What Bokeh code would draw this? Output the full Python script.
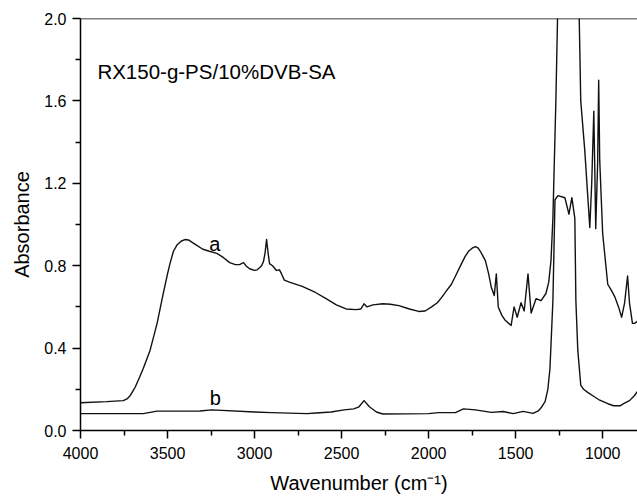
from bokeh.plotting import figure
from bokeh.models import Range1d, FixedTicker, PrintfTickFormatter, Span, ColumnDataSource
from bokeh.core.properties import value
from bokeh.embed import file_html
from bokeh.resources import INLINE

# Curve a (RX150-g-PS/10%DVB-SA)
wn_a = [4000, 3850, 3754, 3730, 3714, 3700, 3686, 3660, 3640, 3600, 3560, 3526, 3500, 3486,
        3466, 3446, 3420, 3400, 3380, 3343, 3297, 3260, 3217, 3180, 3143, 3110, 3086, 3070,
        3063, 3050, 3029, 3000, 2985, 2971, 2960, 2949, 2940, 2931, 2922, 2914, 2897, 2874,
        2857, 2845, 2829, 2800, 2726, 2650, 2589, 2530, 2474, 2417, 2389, 2371, 2354, 2320,
        2263, 2220, 2171, 2110, 2057, 2020, 1983, 1950, 1926, 1900, 1869, 1840, 1811, 1790,
        1771, 1750, 1731, 1715, 1703, 1690, 1674, 1655, 1640, 1623, 1611, 1600, 1580, 1560,
        1526, 1509, 1491, 1469, 1451, 1429, 1411, 1383, 1354, 1326, 1310, 1297, 1286, 1269,
        1257, 1229, 1154, 1137, 1126, 1103, 1074, 1063, 1051, 1046, 1040, 1029, 1023, 1017,
        1000, 971, 950, 931, 909, 891, 874, 857, 846, 829, 817, 800]
abs_a = [0.135, 0.14, 0.145, 0.155, 0.17, 0.19, 0.21, 0.26, 0.30, 0.39, 0.52, 0.66, 0.76, 0.81,
         0.87, 0.90, 0.92, 0.927, 0.925, 0.905, 0.88, 0.87, 0.86, 0.84, 0.815, 0.805, 0.805, 0.812,
         0.815, 0.80, 0.785, 0.777, 0.78, 0.79, 0.80, 0.82, 0.86, 0.927, 0.86, 0.81, 0.80, 0.777,
         0.78, 0.76, 0.73, 0.72, 0.70, 0.67, 0.64, 0.61, 0.59, 0.587, 0.59, 0.615, 0.60, 0.61,
         0.615, 0.613, 0.606, 0.59, 0.578, 0.58, 0.60, 0.62, 0.645, 0.675, 0.71, 0.76, 0.81, 0.845,
         0.87, 0.885, 0.893, 0.885, 0.87, 0.85, 0.825, 0.76, 0.695, 0.655, 0.76, 0.60, 0.56, 0.535,
         0.51, 0.60, 0.55, 0.62, 0.58, 0.76, 0.57, 0.64, 0.63, 0.665, 0.72, 0.825, 1.03, 1.6,
         2.1, 2.5, 2.5, 2.1, 1.60, 1.36, 0.985, 1.2, 1.55, 1.30, 0.98, 1.3, 1.70, 1.31,
         0.955, 0.71, 0.68, 0.65, 0.60, 0.55, 0.62, 0.75, 0.62, 0.52, 0.52, 0.53]

# Curve b
wn_b = [4000, 3700, 3640, 3600, 3560, 3314, 3246, 3000, 2903, 2700, 2646, 2560, 2486, 2430,
        2400, 2371, 2340, 2300, 2263, 2000, 1943, 1846, 1800, 1731, 1640, 1571, 1514, 1457,
        1400, 1370, 1354, 1331, 1315, 1303, 1286, 1274, 1257, 1217, 1194, 1177, 1160, 1154,
        1143, 1126, 1110, 1086, 1050, 1017, 970, 937, 900, 880, 846, 817, 800]
abs_b = [0.082, 0.082, 0.082, 0.088, 0.094, 0.095, 0.10, 0.09, 0.087, 0.082, 0.085, 0.09, 0.10,
         0.105, 0.115, 0.145, 0.115, 0.09, 0.08, 0.082, 0.087, 0.087, 0.105, 0.10, 0.088, 0.092,
         0.082, 0.093, 0.083, 0.095, 0.11, 0.14, 0.20, 0.30, 0.63, 1.12, 1.14, 1.13, 1.05, 1.13,
         1.03, 0.63, 0.39, 0.22, 0.20, 0.185, 0.165, 0.147, 0.13, 0.12, 0.12, 0.13, 0.145, 0.17,
         0.19]

x_ticks = [1000, 1500, 2000, 2500, 3000, 3500, 4000]
x_minor = [1250, 1750, 2250, 2750, 3250, 3750]
y_ticks = [0.0, 0.4, 0.8, 1.2, 1.6, 2.0]
y_minor = [0.2, 0.6, 1.0, 1.4, 1.8]

title_text = "RX150-g-PS/10%DVB-SA"
labels = ["a", "b"]
label_x = [3229, 3226]
label_y = [0.905, 0.16]

FONT = "Liberation Sans"

p = figure(width=637, height=499, output_backend="svg", toolbar_location=None,
           x_range=Range1d(4000, 800), y_range=Range1d(0, 2.0),
           min_border_left=80, min_border_right=0, min_border_top=18, min_border_bottom=69)
p.xgrid.visible = False
p.ygrid.visible = False
p.outline_line_color = None
p.background_fill_color = "white"
p.border_fill_color = "white"

p.line(wn_a, abs_a, line_color="#111111", line_width=1.4, line_join="round")
p.line(wn_b, abs_b, line_color="#111111", line_width=1.4, line_join="round")

p.add_layout(Span(location=2.0, dimension="width", line_color="black", line_width=1.5))

src = ColumnDataSource(dict(x=label_x, y=label_y, t=labels))
p.text(x="x", y="y", text="t", source=src, text_font=value(FONT), text_font_size="20px",
       text_align="center", text_baseline="alphabetic", text_color="black")
p.text(x=[3903], y=[1.743], text=[title_text], text_font=value(FONT), text_font_size="20.5px",
       text_align="left", text_baseline="alphabetic", text_color="black")

for ax in (p.xaxis[0], p.yaxis[0]):
    ax.axis_line_color = "black"
    ax.axis_line_width = 1.5
    ax.major_tick_line_color = "black"
    ax.minor_tick_line_color = "black"
    ax.major_tick_line_width = 1.5
    ax.minor_tick_line_width = 1.5
    ax.major_tick_in = 0
    ax.major_tick_out = 8
    ax.minor_tick_in = 0
    ax.minor_tick_out = 5
    ax.major_label_text_font = FONT
    ax.major_label_text_font_size = "16px"
    ax.major_label_text_color = "black"
    ax.axis_label_text_font = FONT
    ax.axis_label_text_font_size = "20px"
    ax.axis_label_text_font_style = "normal"
    ax.axis_label_text_color = "black"

p.xaxis.ticker = FixedTicker(ticks=x_ticks, minor_ticks=x_minor)
p.yaxis.ticker = FixedTicker(ticks=y_ticks, minor_ticks=y_minor)
p.yaxis.formatter = PrintfTickFormatter(format="%.1f")
p.xaxis.axis_label = "Wavenumber (cm\u207b\u00b9)"
p.yaxis.axis_label = "Absorbance"
p.xaxis.major_label_standoff = 8
p.yaxis.major_label_standoff = 6
p.xaxis.axis_label_standoff = 10
p.yaxis.axis_label_standoff = 8

open("out.html", "w").write(file_html(p, INLINE))
